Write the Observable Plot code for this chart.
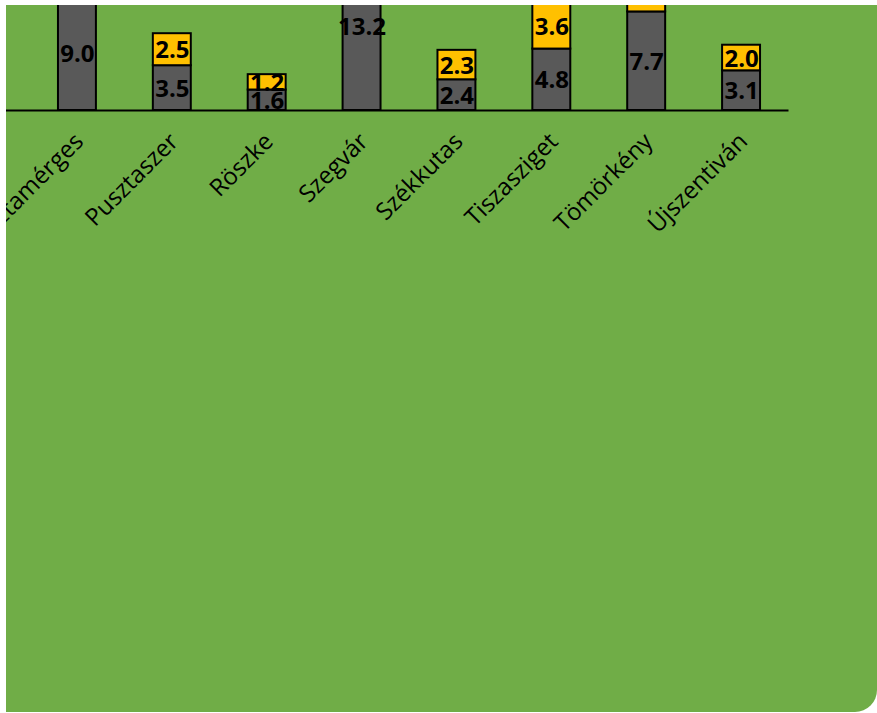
<!DOCTYPE html>
<html>
<head>
<meta charset="utf-8">
<script src="https://cdn.jsdelivr.net/npm/d3@7"></script>
<script src="https://cdn.jsdelivr.net/npm/@observablehq/plot@0.6"></script>
<style>
  html, body { margin: 0; padding: 0; background: #ffffff; width: 877px; height: 713px; overflow: hidden; }
  #panel {
    position: absolute; left: 6px; top: 5px; width: 871px; height: 707px;
    background: #70AD47; border-bottom-right-radius: 22px; overflow: hidden;
  }
  #panel svg { overflow: visible; }
</style>
</head>
<body>
<div id="panel"></div>
<script>
const categories = ["Pusztamérges","Pusztaszer","Röszke","Szegvár","Székkutas","Tiszasziget","Tömörkény","Újszentiván"];
const lowerValues = [9.0, 3.5, 1.6, 13.2, 2.4, 4.8, 7.7, 3.1];
const upperValues = [null, 2.5, 1.2, null, 2.3, 3.6, 3.0, 2.0];
const seriesNames = ["lower", "upper"];
const seriesColors = ["#595959", "#FFC000"];

const rows = [];
categories.forEach((c, i) => {
  rows.push({cat: c, series: "lower", value: lowerValues[i]});
  if (upperValues[i] != null) rows.push({cat: c, series: "upper", value: upperValues[i]});
});

const W = 871, H = 707, base = 105;
const chart = Plot.plot({
  width: W,
  height: H,
  marginTop: 0,
  marginBottom: H - base,
  marginLeft: 23.5,
  marginRight: 88.5,
  style: {background: "transparent", fontFamily: "'Open Sans', sans-serif", overflow: "visible"},
  x: {domain: categories, paddingInner: 0.6, paddingOuter: 0.3, round: false, label: null},
  y: {domain: [0, base / 12.8], axis: null},
  color: {domain: seriesNames, range: seriesColors},
  marks: [
    Plot.barY(rows, Plot.stackY({x: "cat", y: "value", z: "series", order: seriesNames, fill: "series", stroke: "black", strokeWidth: 2, clip: "frame"})),
    Plot.text(rows, Plot.stackY({x: "cat", y: "value", z: "series", order: seriesNames, text: d => d.value.toFixed(1), fill: "black", fontSize: 24, fontWeight: "bold", dy: 1, clip: "frame"})),
    Plot.ruleY([0], {stroke: "black", strokeWidth: 2, insetLeft: -23.5}),
    Plot.axisX({tickRotate: -45, tickSize: 0, tickPadding: 22, dy: 5, dx: 2, fontSize: 24, fill: "black", label: null})
  ]
});
document.getElementById("panel").appendChild(chart);
</script>
</body>
</html>
